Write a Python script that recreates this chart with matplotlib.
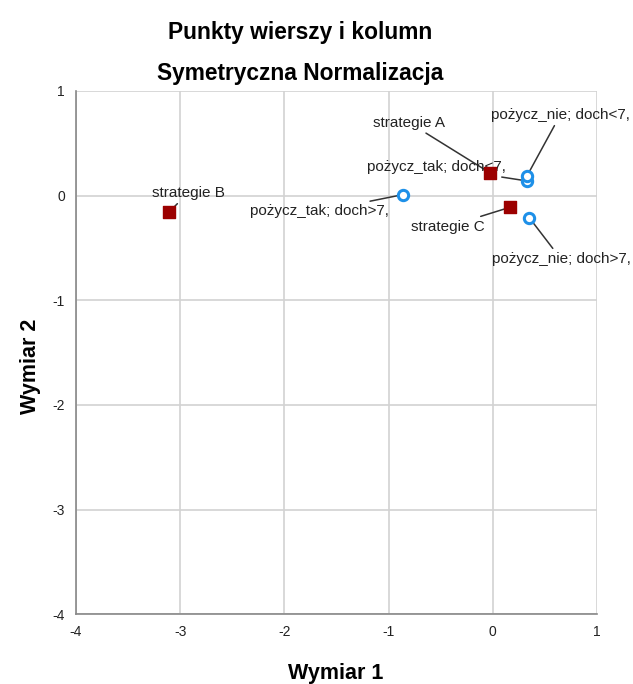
import matplotlib.pyplot as plt

plt.rcParams['font.family'] = ['Liberation Sans', 'DejaVu Sans']
plt.rcParams['axes.unicode_minus'] = False

# punkty wierszy (strategie)
row_labels = ['strategie A', 'strategie B', 'strategie C']
row_x = [-0.03, -3.11, 0.17]
row_y = [0.22, -0.16, -0.11]

# punkty kolumn
col_labels = ['pożycz_tak; doch<7,', 'pożycz_tak; doch>7,',
              'pożycz_nie; doch<7,', 'pożycz_nie; doch>7,']
col_x = [0.33, -0.86, 0.33, 0.35]
col_y = [0.14, 0.01, 0.19, -0.21]

# przesunięcia etykiet (w punktach) wzgledem punktow
row_offsets = [(-58, 36), (14, 14), (-45, -14)]
col_offsets = [(-65, 10), (-60, -12), (24, 44), (23, -30)]

fig = plt.figure(figsize=(6.33, 6.84), dpi=100)
ax = fig.add_axes([0.120, 0.102, 0.823, 0.765])

ax.set_xlim(-4, 1)
ax.set_ylim(-4, 1)
ax.set_xticks(range(-4, 2))
ax.set_yticks(range(-4, 2))
ax.grid(True, color='#d2d2d2', linewidth=1.2)
ax.set_axisbelow(True)
for s in ['top', 'right']:
    ax.spines[s].set_visible(False)
for s in ['left', 'bottom']:
    ax.spines[s].set_color('#888888')
    ax.spines[s].set_linewidth(1.2)
ax.tick_params(length=0, labelsize=10, labelcolor='#222222', pad=8)

ax.scatter(row_x, row_y, marker='s', s=70, color='#9c0000', zorder=3)
ax.scatter(col_x, col_y, marker='o', s=55, facecolor='white',
           edgecolor='#1e90e8', linewidth=2.2, zorder=3)


def label(x, y, txt, off):
    # etykiety pod markerami
    ax.annotate(txt, (x, y), xytext=off, textcoords='offset points',
                ha='center', va='center', fontsize=11, color='#222222',
                arrowprops=dict(arrowstyle='-', color='#333333', lw=1.1,
                                shrinkA=1, shrinkB=2),
                zorder=2)


for lbl, x, y, off in zip(row_labels, row_x, row_y, row_offsets):
    label(x, y, lbl, off)
for lbl, x, y, off in zip(col_labels, col_x, col_y, col_offsets):
    label(x, y, lbl, off)

fig.text(0.474, 0.953, 'Punkty wierszy i kolumn', ha='center', va='center',
         fontsize=16.4, fontweight='bold')
fig.text(0.474, 0.892, 'Symetryczna Normalizacja', ha='center', va='center',
         fontsize=16.4, fontweight='bold')
fig.text(0.53, 0.016, 'Wymiar 1', ha='center', va='center',
         fontsize=15.5, fontweight='bold')
fig.text(0.048, 0.465, 'Wymiar 2', ha='center', va='center',
         rotation=90, fontsize=15.5, fontweight='bold')

fig.savefig('out.png', dpi=100)
